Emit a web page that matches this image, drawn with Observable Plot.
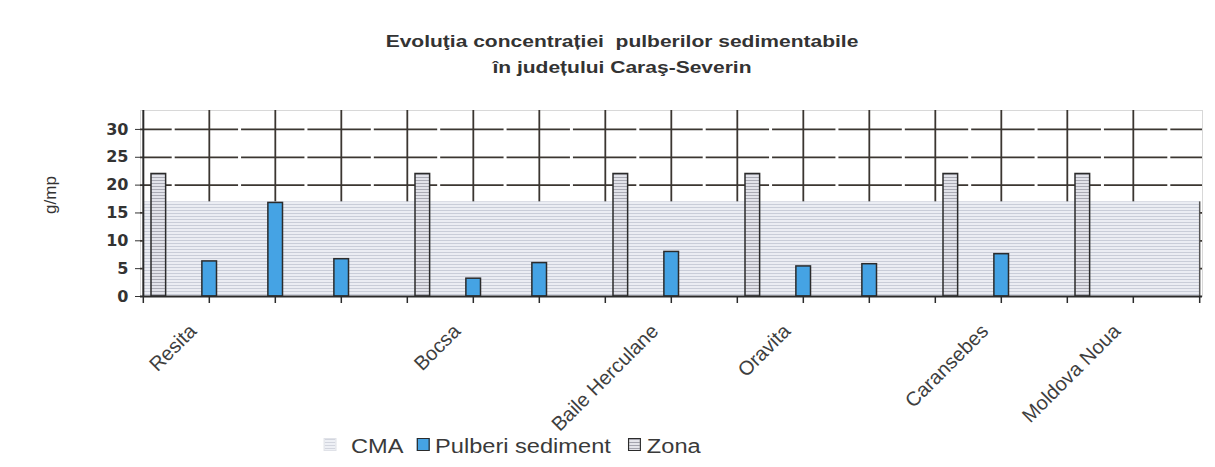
<!DOCTYPE html>
<html>
<head>
<meta charset="utf-8">
<script src="https://cdn.jsdelivr.net/npm/d3@7"></script>
<script src="https://cdn.jsdelivr.net/npm/@observablehq/plot@0.6"></script>
<style>
  body { margin: 0; background: #fff; }
  #wrap { position: relative; width: 1215px; height: 467px; overflow: hidden; font-family: "Liberation Sans", Arial, sans-serif; }
  #chart { position: absolute; left: 0; top: 0; }
  .title { position: absolute; left: 322px; width: 600px; text-align: center; font-weight: bold; font-size: 16.3px; line-height: 20px; color: #333; transform: scaleX(1.29); transform-origin: 300px 0; white-space: pre; }
  .ylab { position: absolute; left: 51px; top: 195px; font-size: 17px; color: #333; transform: translate(-50%, -50%) rotate(-90deg); white-space: nowrap; }
  #legend { position: absolute; left: 320px; top: 436px; height: 20px; width: 400px; transform: scaleX(1.18); transform-origin: 0 0; font-size: 20px; line-height: 20px; color: #3a3a3a; }
  #legend span { position: absolute; top: 0; white-space: nowrap; }
  #legend i { position: absolute; top: 2px; width: 11px; height: 13px; box-sizing: border-box; }
</style>
</head>
<body>
<div id="wrap">
  <div id="chart"></div>
  <div class="title" id="t1" style="top:31px"></div>
  <div class="title" id="t2" style="top:57px"></div>
  <div class="ylab" id="ylab"></div>
  <div id="legend"></div>
</div>
<script>
// ---- data ----
const titleLines = ["Evoluţia concentrației  pulberilor sedimentabile", "în județului Caraş-Severin"];
const yLabel = "g/mp";
const categories = ["Resita", "", "", "", "Bocsa", "", "", "Baile Herculane", "", "Oravita", "", "", "Caransebes", "", "Moldova Noua", ""];
const pulberi = [6.3, 16.8, 6.7, null, 3.2, 6.0, null, 8.0, null, 5.4, 5.8, null, 7.6, null, null, null];
const zona    = [22, null, null, null, 22, null, null, 22, null, 22, null, null, 22, null, 22, null];
const cma     = [17, 17, 17, 17, 17, 17, 17, 17, 17, 17, 17, 17, 17, 17, 17, 17];
const yTicks = [0, 5, 10, 15, 20, 25, 30];
const seriesNames = ["CMA", "Pulberi sediment", "Zona"];

// ---- build ----
const rows = categories.map((name, i) => ({i, name, pulberi: pulberi[i], zona: zona[i], cma: cma[i]}));
const W = 1215, H = 467, mL = 140, mR = 13, mT = 110, mB = 171;
const bw = (W - mL - mR) / rows.length;
const barW = 15;
const gridColor = "#3b3631";
const axisColor = "#2b2b2b";
const blue = "#45a3e4";

const chart = Plot.plot({
  width: W, height: H,
  marginLeft: mL, marginRight: mR, marginTop: mT, marginBottom: mB,
  style: {fontFamily: "DejaVu Sans", fontSize: "16px", fontWeight: "bold", color: "#333", background: "transparent"},
  x: {type: "band", domain: rows.map(d => d.i), padding: 0, axis: null},
  y: {domain: [0, 33.4], ticks: yTicks, tickSize: 5, tickPadding: 7, label: null, tickFormat: d => String(d)},
  marks: [
    Plot.frame({stroke: "#d8d8d8", strokeWidth: 1}),
    Plot.ruleY(yTicks.filter(v => v > 0), {y: d => d, stroke: gridColor, strokeWidth: 1.7,
      strokeDasharray: `${bw - 3} 3`, strokeDashoffset: bw / 2 - 1.5}),
    Plot.ruleX(rows.slice(1), {x: "i", dx: -bw / 2, stroke: gridColor, strokeWidth: 1.8}),
    Plot.barY(rows, {x: "i", y: "cma", fill: "url(#cmaPat)", insetLeft: -0.3, insetRight: -0.3}),
    Plot.ruleX(rows.slice(-1), {x: "i", dx: bw / 2, y1: 0, y2: "cma", stroke: "#555", strokeWidth: 1.5}),
    Plot.barY(rows.filter(d => d.zona != null), {x: "i", y: "zona", fill: "url(#zonaPat)", stroke: axisColor, strokeWidth: 1.5,
      insetLeft: 8, insetRight: bw - 8 - barW}),
    Plot.barY(rows.filter(d => d.pulberi != null), {x: "i", y: "pulberi", dx: bw / 2, fill: blue, stroke: axisColor, strokeWidth: 1.5,
      insetLeft: (bw - barW) / 2, insetRight: (bw - barW) / 2}),
    Plot.ruleY([0], {stroke: axisColor, strokeWidth: 2}),
    Plot.ruleX(rows.slice(0, 1), {x: "i", dx: -bw / 2, stroke: axisColor, strokeWidth: 2}),
    Plot.ruleX(rows, {x: "i", dx: -bw / 2, y1: 0, y2: 0, insetBottom: -7, stroke: axisColor, strokeWidth: 1.5}),
    Plot.ruleX(rows.slice(-1), {x: "i", dx: bw / 2, y1: 0, y2: 0, insetBottom: -7, stroke: axisColor, strokeWidth: 1.5}),
    Plot.text(rows.filter(d => d.name), {x: "i", text: "name", frameAnchor: "bottom", rotate: -45, textAnchor: "end",
      dx: 21, dy: 36, fontSize: 20, fontFamily: "Liberation Sans", fontWeight: "normal", fill: "#3e3e3e"})
  ]
});

document.getElementById("chart").appendChild(chart);

// patterns
const svgEl = chart.tagName.toLowerCase() === "svg" ? chart : chart.querySelector("svg");
const svg = d3.select(svgEl);
const defs = svg.insert("defs", ":first-child");
function stripes(id, bg, fg, h, sh) {
  const p = defs.append("pattern").attr("id", id).attr("patternUnits", "userSpaceOnUse").attr("width", 6).attr("height", h);
  p.append("rect").attr("width", 6).attr("height", h).attr("fill", bg);
  p.append("rect").attr("width", 6).attr("height", sh).attr("fill", fg);
}
stripes("cmaPat", "#ebedf3", "#c9cdd8", 3, 1);
stripes("zonaPat", "#e2e3ea", "#a9aab4", 3, 1);

// texts
document.getElementById("t1").textContent = titleLines[0];
document.getElementById("t2").textContent = titleLines[1];
document.getElementById("ylab").textContent = yLabel;

// legend
const legend = document.getElementById("legend");
const swatches = [
  {bg: "repeating-linear-gradient(#d2d5de 0 1px, #eef0f5 1px 3px)", border: "1px solid #e0e2e8"},
  {bg: blue, border: "1.5px solid " + axisColor},
  {bg: "repeating-linear-gradient(#a4a4ae 0 1px, #e4e4ea 1px 3px)", border: "1.5px solid " + axisColor}
];
const swX = [3.4, 82.2, 261], txX = [26.3, 97.5, 277];
seriesNames.forEach((n, k) => {
  const i = document.createElement("i");
  i.style.left = swX[k] + "px"; i.style.background = swatches[k].bg; i.style.border = swatches[k].border;
  legend.appendChild(i);
  const s = document.createElement("span");
  s.style.left = txX[k] + "px"; s.textContent = n;
  legend.appendChild(s);
});
</script>
</body>
</html>
